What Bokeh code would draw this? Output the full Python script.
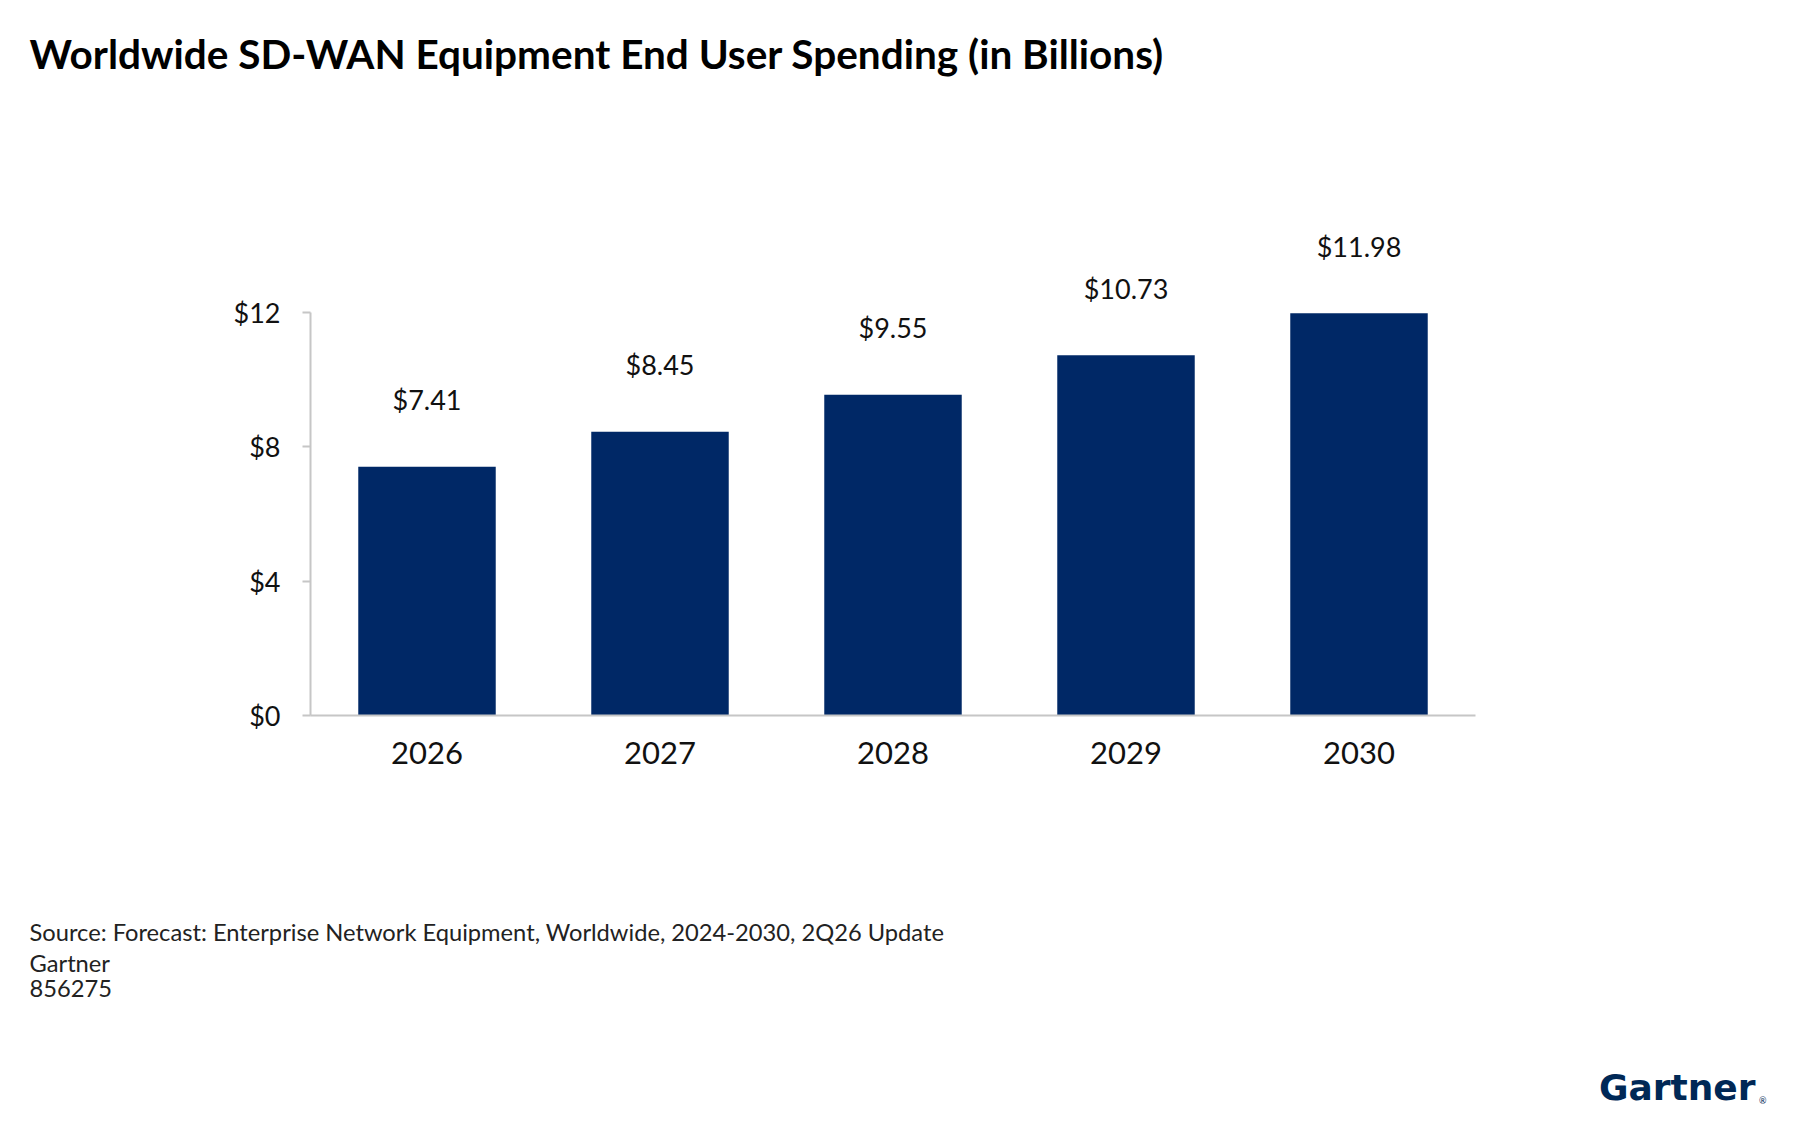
from bokeh.plotting import figure
from bokeh.models import ColumnDataSource, FactorRange, Range1d, FixedTicker, PrintfTickFormatter, Title
from bokeh.core.properties import value
from bokeh.embed import file_html
from bokeh.resources import INLINE

years = ["2026", "2027", "2028", "2029", "2030"]
spending = [7.41, 8.45, 9.55, 10.73, 11.98]
y_ticks = [0, 4, 8, 12]

title_text = "Worldwide SD-WAN Equipment End User Spending (in Billions)"
footnotes = [
    "Source: Forecast: Enterprise Network Equipment, Worldwide, 2024-2030, 2Q26 Update",
    "Gartner",
    "856275",
]

NAVY = "#002866"
FONT = "Lato"
W, H = 1784, 1112
FRAME_LEFT, FRAME_RIGHT, FRAME_TOP, FRAME_BOTTOM = 310, 1475, 161, 715


def spacer(height):
    # empty title used only to push the next panel away from the frame
    return Title(text=" ", text_font_size="10px", standoff=height - 14,
                 text_color="white")


def note(text, size, x, align="left", style="normal", color="#222222",
         valign="top", standoff=0, font=FONT):
    offset = x - FRAME_LEFT if align == "left" else FRAME_RIGHT - x
    return Title(text=text, align=align, offset=offset, standoff=standoff,
                 vertical_align=valign, text_font=font, text_font_size=size,
                 text_font_style=style, text_color=color)


def create_chart():
    source = ColumnDataSource(dict(
        year=years,
        spending=spending,
        label=["$%.2f" % v for v in spending],
    ))

    p = figure(
        x_range=FactorRange(factors=years),
        y_range=Range1d(0, 16.5),
        width=W,
        height=H,
        toolbar_location=None,
        tools="",
        output_backend="svg",
        min_border_left=FRAME_LEFT,
        min_border_right=W - FRAME_RIGHT,
        min_border_top=FRAME_TOP,
        min_border_bottom=H - FRAME_BOTTOM,
    )

    p.vbar(x="year", top="spending", width=0.59, source=source,
           fill_color=NAVY, line_color=None)

    p.text(x="year", y="spending", text="label", source=source,
           y_offset=-67, text_align="center", text_baseline="middle",
           text_font=value(FONT), text_font_size="27px", text_color="#111111")

    p.outline_line_color = None
    p.grid.grid_line_color = None

    p.yaxis.bounds = (0, 12)
    p.yaxis.ticker = FixedTicker(ticks=y_ticks)
    p.yaxis.formatter = PrintfTickFormatter(format="$%d")
    p.yaxis.axis_line_color = "#c6c6c6"
    p.yaxis.axis_line_width = 2
    p.yaxis.major_tick_line_color = "#c6c6c6"
    p.yaxis.major_tick_line_width = 2
    p.yaxis.major_tick_out = 8
    p.yaxis.major_tick_in = 0
    p.yaxis.minor_tick_line_color = None
    p.yaxis.major_label_standoff = 22
    p.yaxis.major_label_text_font = FONT
    p.yaxis.major_label_text_font_size = "27px"
    p.yaxis.major_label_text_color = "#111111"

    p.xaxis.axis_line_color = "#c6c6c6"
    p.xaxis.axis_line_width = 2
    p.xaxis.major_tick_line_color = None
    p.xaxis.minor_tick_line_color = None
    p.xaxis.major_label_standoff = 20
    p.xaxis.major_label_text_font = FONT
    p.xaxis.major_label_text_font_size = "31px"
    p.xaxis.major_label_text_color = "#111111"

    # heading: panels stack outward from the frame
    p.add_layout(spacer(85), "above")
    p.add_layout(note(title_text, "40.5px", 29, style="bold", color="#000000",
                      valign="bottom"), "above")

    # source notes and logo under the x axis
    p.add_layout(spacer(152), "below")
    for line in footnotes:
        p.add_layout(note(line, "23.7px", 29, standoff=1), "below")
    p.add_layout(spacer(83), "below")
    # negative standoff keeps the logo panel short so the mark fits under it
    p.add_layout(note("Gartner", "36px", 1755, align="right", style="bold",
                      color="#002856", font="DejaVu Sans", standoff=-30), "below")
    p.add_layout(note("®", "9px", 1766, align="right", color="#002856"), "below")

    return p


p = create_chart()
open("out.html", "w").write(file_html(p, INLINE, "Worldwide SD-WAN Equipment End User Spending"))
